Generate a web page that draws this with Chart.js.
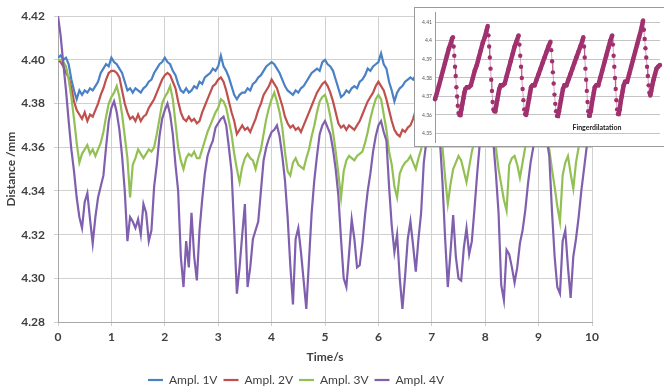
<!DOCTYPE html>
<html><head><meta charset="utf-8">
<script src="https://cdn.jsdelivr.net/npm/chart.js"></script>
<style>
html,body{margin:0;padding:0;background:#fff;}
#wrap{position:relative;width:664px;height:392px;overflow:hidden;background:#fff;}
#main{position:absolute;left:0;top:0;}
#inset{position:absolute;left:414px;top:7px;width:249px;height:138px;border:1px solid #9a9a9a;background:#fff;}
#insetCanvas{position:absolute;left:0;top:0;}
#insetTitle{position:absolute;left:142px;top:115px;width:80px;text-align:center;font:bold 7px Lato, "Open Sans", sans-serif;color:#222;}
</style></head><body>
<div id="wrap">
<canvas id="main" width="664" height="392"></canvas>
<div id="inset"><canvas id="insetCanvas" width="249" height="138"></canvas><div id="insetTitle">Fingerdilatation</div></div>
</div>
<script>
// ---- categories: time (s) ----
const times = [
0,0.05,0.1,0.15,0.2,0.25,0.3,0.35,0.4,0.45,0.5,0.55,0.6,0.65,0.7,0.75,0.8,0.85,0.9,0.95,
1,1.05,1.1,1.15,1.2,1.25,1.3,1.35,1.4,1.45,1.5,1.55,1.6,1.65,1.7,1.75,1.8,1.85,1.9,1.95,
2,2.05,2.1,2.15,2.2,2.25,2.3,2.35,2.4,2.45,2.5,2.55,2.6,2.65,2.7,2.75,2.8,2.85,2.9,2.95,
3,3.05,3.1,3.15,3.2,3.25,3.3,3.35,3.4,3.45,3.5,3.55,3.6,3.65,3.7,3.75,3.8,3.85,3.9,3.95,
4,4.05,4.1,4.15,4.2,4.25,4.3,4.35,4.4,4.45,4.5,4.55,4.6,4.65,4.7,4.75,4.8,4.85,4.9,4.95,
5,5.05,5.1,5.15,5.2,5.25,5.3,5.35,5.4,5.45,5.5,5.55,5.6,5.65,5.7,5.75,5.8,5.85,5.9,5.95,
6,6.05,6.1,6.15,6.2,6.25,6.3,6.35,6.4,6.45,6.5,6.55,6.6,6.65,6.7,6.75,6.8,6.85,6.9,6.95,
7,7.05,7.1,7.15,7.2,7.25,7.3,7.35,7.4,7.45,7.5,7.55,7.6,7.65,7.7,7.75,7.8,7.85,7.9,7.95,
8,8.05,8.1,8.15,8.2,8.25,8.3,8.35,8.4,8.45,8.5,8.55,8.6,8.65,8.7,8.75,8.8,8.85,8.9,8.95,
9,9.05,9.1,9.15,9.2,9.25,9.3,9.35,9.4,9.45,9.5,9.55,9.6,9.65,9.7,9.75,9.8,9.85,9.9,9.95,
10];

// ---- series values: distance (mm) ----
const ampl1V = [
4.401,4.402,4.400,4.401,4.398,4.391,4.386,4.382,4.386,4.384,4.386,4.385,4.387,4.386,4.388,4.390,4.394,4.396,4.398,4.397,
4.401,4.399,4.398,4.396,4.394,4.390,4.386,4.387,4.385,4.387,4.386,4.385,4.387,4.388,4.390,4.391,4.394,4.396,4.398,4.399,
4.401,4.399,4.398,4.395,4.393,4.389,4.386,4.385,4.387,4.385,4.386,4.388,4.387,4.390,4.389,4.392,4.393,4.394,4.396,4.395,
4.397,4.402,4.397,4.395,4.392,4.388,4.384,4.382,4.384,4.385,4.385,4.387,4.386,4.389,4.390,4.392,4.393,4.395,4.397,4.398,
4.399,4.398,4.396,4.394,4.391,4.388,4.386,4.385,4.384,4.386,4.385,4.387,4.388,4.390,4.392,4.394,4.395,4.396,4.395,4.399,
4.400,4.398,4.397,4.395,4.391,4.387,4.383,4.384,4.386,4.385,4.387,4.388,4.387,4.390,4.391,4.393,4.396,4.395,4.397,4.398,
4.399,4.403,4.398,4.396,4.390,4.386,4.381,4.385,4.387,4.388,4.390,4.391,4.392,4.391,4.393,4.394,4.396,4.397,4.398,4.399,
4.400,4.398,4.396,4.393,4.390,4.387,4.384,4.385,4.386,4.385,4.387,4.388,4.389,4.391,4.393,4.394,4.396,4.397,4.398,4.399,
4.400,4.398,4.396,4.393,4.389,4.386,4.384,4.385,4.386,4.387,4.386,4.388,4.390,4.392,4.394,4.395,4.397,4.398,4.399,4.400,
4.399,4.397,4.395,4.391,4.388,4.385,4.384,4.385,4.387,4.386,4.388,4.389,4.391,4.393,4.394,4.396,4.397,4.398,4.399,4.398,
4.397];
const ampl2V = [
4.400,4.399,4.397,4.394,4.392,4.387,4.381,4.377,4.375,4.373,4.376,4.372,4.375,4.374,4.377,4.380,4.384,4.387,4.391,4.394,
4.395,4.395,4.394,4.392,4.386,4.380,4.376,4.373,4.374,4.372,4.375,4.372,4.374,4.375,4.378,4.380,4.382,4.385,4.388,4.391,
4.393,4.394,4.393,4.390,4.387,4.381,4.376,4.373,4.372,4.374,4.372,4.373,4.371,4.372,4.376,4.379,4.382,4.385,4.388,4.389,
4.391,4.392,4.390,4.386,4.381,4.376,4.372,4.366,4.368,4.370,4.368,4.369,4.367,4.370,4.373,4.377,4.380,4.384,4.386,4.388,
4.391,4.389,4.387,4.383,4.379,4.374,4.371,4.369,4.370,4.368,4.369,4.367,4.370,4.373,4.376,4.379,4.382,4.385,4.387,4.389,
4.390,4.388,4.385,4.381,4.376,4.371,4.369,4.370,4.368,4.370,4.369,4.368,4.370,4.372,4.375,4.378,4.381,4.383,4.385,4.388,
4.390,4.388,4.386,4.382,4.377,4.372,4.368,4.366,4.365,4.368,4.367,4.369,4.370,4.373,4.377,4.380,4.383,4.386,4.388,4.390,
4.391,4.389,4.386,4.382,4.377,4.372,4.369,4.368,4.370,4.368,4.369,4.371,4.373,4.375,4.378,4.381,4.384,4.386,4.388,4.390,
4.391,4.389,4.386,4.381,4.376,4.372,4.369,4.368,4.370,4.369,4.368,4.370,4.372,4.375,4.378,4.381,4.384,4.386,4.389,4.390,
4.389,4.387,4.383,4.378,4.373,4.370,4.368,4.369,4.367,4.369,4.370,4.372,4.374,4.377,4.380,4.383,4.385,4.387,4.389,4.390,
4.389];
const ampl3V = [
4.400,4.400,4.399,4.397,4.391,4.383,4.373,4.362,4.353,4.357,4.359,4.361,4.357,4.359,4.356,4.359,4.362,4.367,4.374,4.380,
4.383,4.385,4.388,4.383,4.375,4.365,4.355,4.337,4.352,4.355,4.359,4.357,4.355,4.357,4.359,4.358,4.360,4.366,4.373,4.380,
4.383,4.385,4.388,4.382,4.371,4.360,4.354,4.350,4.355,4.357,4.356,4.358,4.355,4.355,4.359,4.363,4.367,4.370,4.373,4.376,
4.378,4.382,4.381,4.378,4.372,4.366,4.357,4.350,4.344,4.351,4.355,4.357,4.355,4.354,4.350,4.355,4.359,4.366,4.373,4.378,
4.382,4.385,4.381,4.376,4.369,4.358,4.349,4.347,4.353,4.355,4.352,4.351,4.350,4.355,4.359,4.365,4.370,4.376,4.381,4.383,
4.384,4.380,4.374,4.367,4.358,4.348,4.337,4.349,4.354,4.356,4.355,4.354,4.356,4.357,4.358,4.362,4.367,4.373,4.378,4.382,
4.384,4.382,4.375,4.368,4.358,4.352,4.342,4.337,4.348,4.351,4.353,4.354,4.356,4.353,4.350,4.355,4.359,4.365,4.372,4.378,
4.382,4.383,4.377,4.369,4.360,4.346,4.334,4.343,4.350,4.353,4.356,4.354,4.349,4.344,4.351,4.358,4.363,4.369,4.375,4.380,
4.383,4.382,4.375,4.367,4.360,4.350,4.343,4.336,4.331,4.352,4.355,4.356,4.352,4.346,4.353,4.360,4.367,4.373,4.378,4.382,
4.383,4.380,4.373,4.366,4.359,4.350,4.342,4.333,4.326,4.347,4.353,4.356,4.348,4.341,4.353,4.360,4.366,4.370,4.374,4.377,
4.379];
const ampl4V = [
4.420,4.411,4.398,4.386,4.372,4.359,4.349,4.337,4.328,4.323,4.335,4.339,4.327,4.316,4.328,4.337,4.342,4.347,4.360,4.372,
4.378,4.381,4.376,4.368,4.356,4.340,4.317,4.328,4.326,4.323,4.327,4.320,4.334,4.330,4.317,4.322,4.342,4.352,4.365,4.373,
4.377,4.380,4.375,4.366,4.352,4.340,4.310,4.296,4.317,4.305,4.330,4.310,4.299,4.322,4.336,4.348,4.356,4.360,4.363,4.369,
4.371,4.373,4.374,4.370,4.360,4.349,4.322,4.293,4.305,4.320,4.334,4.296,4.305,4.318,4.322,4.326,4.340,4.354,4.360,4.364,
4.367,4.368,4.370,4.365,4.356,4.345,4.328,4.306,4.288,4.318,4.323,4.312,4.299,4.286,4.308,4.330,4.345,4.356,4.366,4.370,
4.372,4.369,4.366,4.359,4.350,4.338,4.318,4.300,4.296,4.311,4.327,4.318,4.305,4.306,4.316,4.329,4.340,4.348,4.358,4.365,
4.370,4.372,4.367,4.363,4.342,4.324,4.312,4.320,4.300,4.286,4.301,4.318,4.326,4.315,4.303,4.318,4.330,4.353,4.363,4.370,
4.374,4.376,4.372,4.364,4.344,4.318,4.296,4.312,4.329,4.310,4.300,4.299,4.314,4.323,4.311,4.317,4.332,4.348,4.362,4.370,
4.374,4.375,4.371,4.363,4.348,4.330,4.297,4.290,4.313,4.311,4.305,4.298,4.305,4.316,4.322,4.331,4.343,4.353,4.360,4.368,
4.373,4.375,4.370,4.364,4.356,4.331,4.310,4.296,4.293,4.317,4.322,4.305,4.291,4.310,4.318,4.328,4.340,4.350,4.360,4.364,
4.367];

const seriesNames = ['Ampl. 1V','Ampl. 2V','Ampl. 3V','Ampl. 4V'];
const seriesValues = [ampl1V, ampl2V, ampl3V, ampl4V];
const xTickValues = [0,1,2,3,4,5,6,7,8,9,10];
const yTickValues = [4.28,4.30,4.32,4.34,4.36,4.38,4.40,4.42];

// ---- inset: finger dilatation (sample position, value) ----
const insetPos = [0,2,4,6,8,10,12,14,16,17,18,
18.7,19.4,20.1,20.8,21.5,22.2,22.9,23.6,24.5,25.5,
26.5,27.5,28.5,29.5,30.5,32,34,36,
38,40,42,44,46,48,50,52,53,
53.7,54.4,55.1,55.8,56.5,57.2,57.9,58.6,59.5,60.5,
61.5,62.5,63.5,64.5,66,68,70,
72,74,76,78,80,82,84,
84.8,85.6,86.4,87.2,88,88.8,89.6,90.5,91.5,
92.5,93.5,94.5,95.5,96.5,98,100,
102,104,106,108,110,112,114,116,
116.8,117.6,118.4,119.2,120,120.8,121.6,122.5,123.5,
124.5,125.5,126.5,127.5,128.5,130,132,
134,136,138,140,142,144,146,148,149,
149.7,150.4,151.1,151.8,152.5,153.2,153.9,154.7,155.5,
156.5,157.5,158.5,159.5,160.5,162,164,
166,168,170,172,174,176,178,
178.7,179.4,180.1,180.8,181.5,182.2,182.9,183.7,184.5,
185.5,186.5,187.5,188.5,189.5,191,193,
195,197,199,201,203,205,207,209,
209.8,210.6,211.4,212.2,213,213.8,214.6,215.3,216.2,
217.2,218.2,219.5,221,222.5,224,226];
const insetValues = [4.3685,4.372,4.376,4.380,4.384,4.388,4.392,4.396,4.399,4.401,4.402,
4.397,4.392,4.386,4.381,4.375,4.370,4.365,4.361,4.360,4.360,
4.363,4.366,4.369,4.372,4.374,4.375,4.375,4.376,
4.380,4.384,4.387,4.391,4.395,4.399,4.402,4.406,4.408,
4.403,4.397,4.391,4.385,4.379,4.373,4.367,4.363,4.362,4.362,
4.365,4.368,4.371,4.374,4.376,4.376,4.377,
4.381,4.385,4.389,4.393,4.397,4.400,4.403,
4.398,4.392,4.386,4.380,4.374,4.368,4.363,4.3605,4.360,
4.363,4.366,4.369,4.372,4.375,4.376,4.376,
4.379,4.382,4.385,4.388,4.391,4.394,4.397,4.3995,
4.395,4.389,4.383,4.377,4.371,4.366,4.362,4.3595,4.3595,
4.362,4.365,4.368,4.371,4.374,4.376,4.376,
4.379,4.382,4.385,4.388,4.391,4.394,4.397,4.400,4.402,
4.397,4.391,4.385,4.379,4.373,4.367,4.362,4.3595,4.3595,
4.362,4.366,4.369,4.372,4.375,4.376,4.376,
4.380,4.384,4.388,4.392,4.396,4.400,4.403,
4.398,4.392,4.386,4.380,4.374,4.368,4.363,4.3605,4.3605,
4.363,4.367,4.370,4.373,4.376,4.378,4.378,
4.382,4.386,4.390,4.394,4.398,4.402,4.406,4.411,
4.406,4.401,4.396,4.391,4.386,4.381,4.376,4.372,4.3705,
4.373,4.376,4.379,4.382,4.385,4.386,4.387];
const insetTickValues = [4.35,4.36,4.37,4.38,4.39,4.40,4.41];

// ---- styles ----
const seriesColors = ['#4a80c4','#c0504d','#93c054','#7f5fae'];
const insetColor = '#a0306e';
const FONT = 'Lato, "Open Sans", "DejaVu Sans", sans-serif';
Chart.defaults.font.family = FONT;

new Chart(document.getElementById('main'), {
  type: 'line',
  data: {
    datasets: seriesValues.map((vals, i) => ({
      label: seriesNames[i],
      data: vals.map((v, k) => ({x: times[k], y: v})),
      borderColor: seriesColors[i],
      backgroundColor: seriesColors[i],
      borderWidth: 2.2,
      pointRadius: 0,
      tension: 0,
      order: seriesValues.length - 1 - i
    }))
  },
  options: {
    responsive: false,
    animation: false,
    events: [],
    layout: {padding: {left: 0, right: 72, top: 13, bottom: -4}},
    plugins: {
      legend: {
        position: 'bottom',
        labels: {
          usePointStyle: true, pointStyle: 'line', pointStyleWidth: 15, boxHeight: 11,
          padding: 6, font: {size: 12}, color: '#404040',
          sort: (a, b) => a.datasetIndex - b.datasetIndex
        }
      },
      tooltip: {enabled: false}
    },
    scales: {
      x: {
        type: 'linear', min: 0, max: 10,
        afterBuildTicks: s => { s.ticks = xTickValues.map(v => ({value: v})); },
        afterFit: s => { s.height = 46; },
        ticks: {padding: 4, font: {size: 12, weight: 'bold'}, color: '#404040', maxRotation: 0},
        grid: {color: '#d0d0d0', tickLength: 4},
        border: {color: '#a8a8a8'},
        title: {display: true, text: 'Time/s', font: {size: 12, weight: 'bold'}, color: '#404040', padding: {top: 0, bottom: 4}}
      },
      y: {
        min: 4.28, max: 4.42,
        afterBuildTicks: s => { s.ticks = yTickValues.map(v => ({value: v})); },
        afterFit: s => { s.width = 58; },
        ticks: {padding: 9, font: {size: 12, weight: 'bold'}, color: '#404040', callback: v => Number(v).toFixed(2)},
        grid: {color: '#d0d0d0', tickLength: 4},
        border: {color: '#a8a8a8'},
        title: {display: true, text: 'Distance /mm', font: {size: 12, weight: 'bold'}, color: '#404040', padding: {top: 4, bottom: 0}}
      }
    }
  }
});

new Chart(document.getElementById('insetCanvas'), {
  type: 'line',
  data: {
    datasets: [{
      label: 'Fingerdilatation',
      data: insetPos.map((p, k) => ({x: p, y: insetValues[k]})),
      borderColor: insetColor,
      backgroundColor: insetColor,
      pointBackgroundColor: insetColor,
      pointBorderWidth: 0,
      pointRadius: 2.2,
      borderWidth: 4.5,
      tension: 0,
      clip: 4,
      segment: {
        borderWidth: c => (c.p1.parsed.y < c.p0.parsed.y ? 1 : 4.5),
        borderColor: c => (c.p1.parsed.y < c.p0.parsed.y ? 'rgba(160,48,110,0.45)' : insetColor)
      }
    }]
  },
  options: {
    responsive: false,
    animation: false,
    events: [],
    layout: {padding: {left: 0, right: 3, top: 0, bottom: 0}},
    plugins: {legend: {display: false}, tooltip: {enabled: false}},
    scales: {
      x: {type: 'linear', display: false, min: 0, max: 226},
      y: {
        min: 4.3454, max: 4.4156,
        afterBuildTicks: s => { s.ticks = insetTickValues.map(v => ({value: v})); },
        afterFit: s => { s.width = 20; s.paddingTop = 0; s.paddingBottom = 0; },
        ticks: {padding: 3, font: {size: 5}, color: '#555', callback: v => String(Number(Number(v).toFixed(2)))},
        grid: {color: '#c4c4c4', drawTicks: false},
        border: {color: '#999'}
      }
    }
  }
});
</script>
</body></html>
